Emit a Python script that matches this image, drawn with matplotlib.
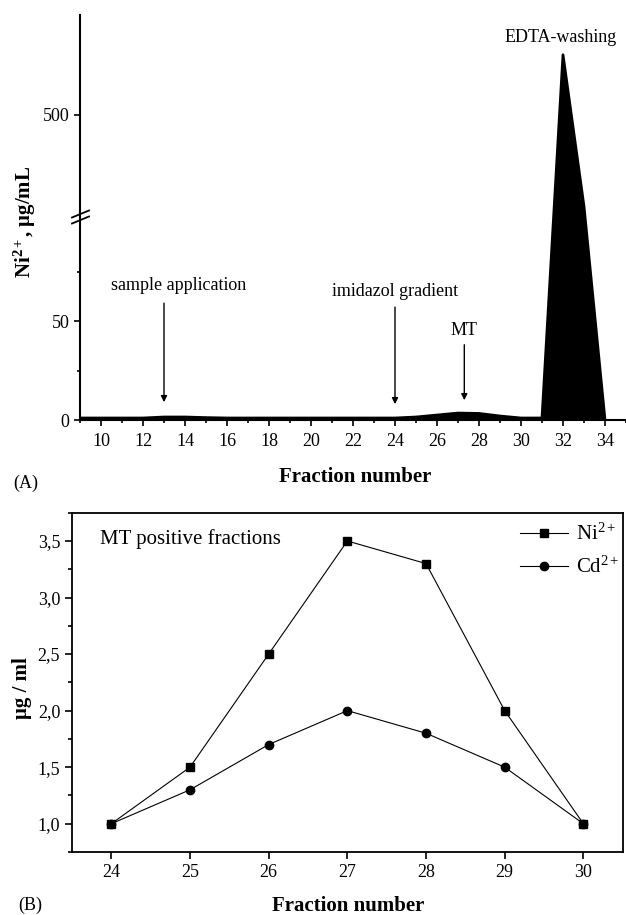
import numpy as np
import matplotlib

matplotlib.use("Agg")
import matplotlib.pyplot as plt
from matplotlib.lines import Line2D
from matplotlib.ticker import FixedLocator, MultipleLocator

plt.rcParams["font.family"] = ["Liberation Serif", "DejaVu Serif"]
plt.rcParams["mathtext.fontset"] = "custom"
plt.rcParams["mathtext.rm"] = "Liberation Serif"
plt.rcParams["mathtext.it"] = "Liberation Serif:italic"
plt.rcParams["mathtext.bf"] = "Liberation Serif:bold"

# (A) Ni2+ elution profile, fractions 9..34
fractions_a = [9, 10, 11, 12, 13, 14, 15, 16, 17, 18, 19, 20, 21, 22, 23,
               24, 25, 26, 27, 28, 29, 30, 31, 32, 33, 34]
ni_profile = [1, 1, 1, 1, 1.5, 1.5, 1.2, 1, 1, 1, 1, 1, 1, 1, 1,
              1, 1.5, 2.5, 3.5, 3.3, 2.0, 1.0, 1.0, 620, 315, 0]

# (B) MT positive fractions
fractions_b = [24, 25, 26, 27, 28, 29, 30]
ni_values = [1.0, 1.5, 2.5, 3.5, 3.3, 2.0, 1.0]
cd_values = [1.0, 1.3, 1.7, 2.0, 1.8, 1.5, 1.0]

y_ticks_a = [0, 50, 500]
y_ticklabels_b = ["1,0", "1,5", "2,0", "2,5", "3,0", "3,5"]

W, H = 626, 915
fig = plt.figure(figsize=(W / 100, H / 100), dpi=100)

# broken y axis as a piecewise linear scale (values -> pixel height)
BREAK_V = [-1000, 0, 100, 300, 700, 2000]
BREAK_D = [-1980, 0, 198, 206, 405, 1052]


def fwd(v):
    return np.interp(v, BREAK_V, BREAK_D)


def inv(d):
    return np.interp(d, BREAK_D, BREAK_V)


axA = fig.add_axes([80 / W, 1 - 420 / H, 546 / W, 405 / H])
axA.set_yscale("function", functions=(fwd, inv))
axA.fill_between(fractions_a, 0, ni_profile, color="black", lw=0)
axA.plot(fractions_a, ni_profile, color="black", lw=2)
axA.set_xlim(9, 35)
axA.set_ylim(0, 700)
for s in ("top", "right"):
    axA.spines[s].set_visible(False)
for s in ("left", "bottom"):
    axA.spines[s].set_linewidth(1.5)
axA.xaxis.set_minor_locator(MultipleLocator(1))
axA.set_xticks(range(10, 35, 2))
axA.yaxis.set_major_locator(FixedLocator(y_ticks_a))
axA.yaxis.set_minor_locator(FixedLocator([25, 75]))
axA.set_yticklabels([str(t) for t in y_ticks_a])
axA.tick_params(which="major", direction="out", length=4, width=1.2,
                labelsize=13)
axA.tick_params(axis="x", which="major", pad=5)
axA.tick_params(which="minor", direction="out", length=2.5, width=1.2)

arrow = dict(arrowstyle="-|>", color="black", lw=1, mutation_scale=9,
             shrinkA=0, shrinkB=0)
axA.text(13.7, 68, "sample application", ha="center", va="center", fontsize=13)
axA.annotate("", xy=(13, 9), xytext=(13, 59), arrowprops=arrow)
axA.text(24.0, 65, "imidazol gradient", ha="center", va="center", fontsize=13)
axA.annotate("", xy=(24, 8), xytext=(24, 57), arrowprops=arrow)
axA.text(27.3, 45, "MT", ha="center", va="center", fontsize=13)
axA.annotate("", xy=(27.3, 10), xytext=(27.3, 38), arrowprops=arrow)
axA.text(31.9, 654, "EDTA-washing", ha="center", va="center", fontsize=13)

# break marks on the y axis
for yc in (214, 220):
    fig.add_artist(Line2D([72 / W, 89 / W],
                          [1 - (yc + 3.5) / H, 1 - (yc - 3.5) / H],
                          color="black", lw=1.3))

fig.text(25 / W, 1 - 222 / H, r"Ni$^{\mathbf{2+}}$, μg/mL", rotation=90,
         ha="center", va="center", fontsize=15, fontweight="bold")
fig.text(355 / W, 1 - 477 / H, "Fraction number", ha="center", va="center",
         fontsize=15, fontweight="bold")
fig.text(13 / W, 1 - 483 / H, "(A)", ha="left", va="center", fontsize=13)

# panel B
axB = fig.add_axes([72 / W, 1 - 852 / H, 550.7 / W, 339.3 / H])
axB.plot(fractions_b, ni_values, color="black", lw=0.8, marker="s",
         markersize=6, label=r"Ni$^{\mathrm{2+}}$")
axB.plot(fractions_b, cd_values, color="black", lw=0.8, marker="o",
         markersize=6, label=r"Cd$^{\mathrm{2+}}$")
axB.set_xlim(23.5, 30.5)
axB.set_ylim(0.75, 3.75)
axB.set_xticks(fractions_b)
axB.set_yticks([1.0, 1.5, 2.0, 2.5, 3.0, 3.5])
axB.set_yticklabels(y_ticklabels_b)
axB.yaxis.set_minor_locator(MultipleLocator(0.25))
for s in axB.spines.values():
    s.set_linewidth(1.3)
axB.tick_params(which="major", direction="out", length=5, width=1.2,
                labelsize=13)
axB.tick_params(which="minor", direction="out", length=3, width=1.2)
axB.text(0.051, 0.922, "MT positive fractions", transform=axB.transAxes,
         ha="left", va="center", fontsize=15)
axB.legend(loc="upper right", bbox_to_anchor=(1.005, 0.985), frameon=False,
           fontsize=15, handlelength=2.3, handletextpad=0.35,
           labelspacing=0.55, borderaxespad=0.0, borderpad=0.3)
fig.text(22 / W, 1 - 688 / H, "μg / ml", rotation=90, ha="center",
         va="center", fontsize=15, fontweight="bold")
fig.text(348 / W, 1 - 906 / H, "Fraction number", ha="center", va="center",
         fontsize=15, fontweight="bold")
fig.text(18 / W, 1 - 905 / H, "(B)", ha="left", va="center", fontsize=13)

fig.savefig("out.png", dpi=100)
